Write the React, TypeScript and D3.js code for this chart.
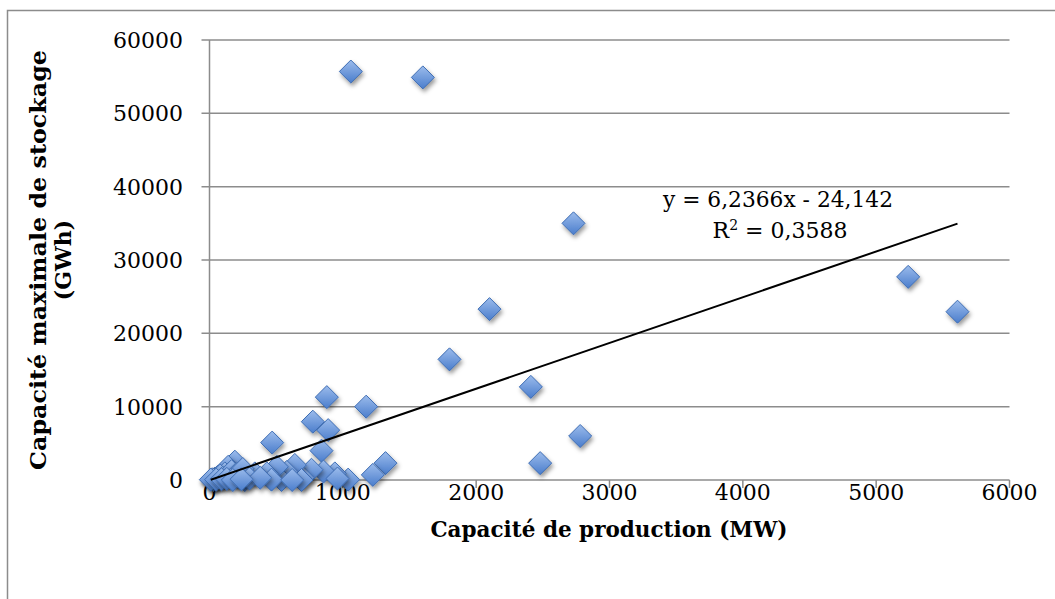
import React from "react";
import * as d3 from "d3";

const width = 1055;
const height = 599;
const margin = { top: 40, right: 45.5, bottom: 119, left: 209.5 };

// production capacity (MW) and max storage (GWh)
const capacityMW = [
  1060, 1600, 2730, 2100, 1800, 2410, 2780, 2480, 5240, 5610,
  880, 1175, 775, 890, 470, 840, 1320, 1225, 1040, 940,
  855, 765, 700, 640, 580, 690, 540, 505, 430, 340,
  465, 265, 190, 140, 115, 40, 20, 60, 80, 100,
  150, 165, 200, 225, 250, 300, 380, 620, 960, 30,
  10, 50, 90, 130, 175, 240
];
const storageGWh = [
  55700, 54900, 35000, 23300, 16450, 12700, 6000, 2300, 27700, 22950,
  11300, 10000, 7950, 6800, 5100, 4000, 2300, 700, 50, 900,
  1150, 1400, 300, 2050, 1100, 0, 0, 1800, 900, 900,
  50, 0, 2500, 1800, 900, 200, 100, 400, 600, 300,
  500, 1200, 800, 300, 1500, 200, 300, 0, 200, 0,
  50, 50, 100, 150, 0, 100
];

const xTicks = [0, 1000, 2000, 3000, 4000, 5000, 6000];
const yTicks = [0, 10000, 20000, 30000, 40000, 50000, 60000];

const slope = 6.2366;
const intercept = -24.142;
const equationText = "y = 6,2366x - 24,142";
const r2Value = "0,3588";

const xTitle = "Capacité de production (MW)";
const yTitle1 = "Capacité maximale de stockage";
const yTitle2 = "(GWh)";

const font = "'DejaVu Serif', serif";

export default function App() {
  const x = d3
    .scaleLinear()
    .domain([0, 6000])
    .range([margin.left, width - margin.right]);
  const y = d3
    .scaleLinear()
    .domain([0, 60000])
    .range([height - margin.bottom, margin.top]);

  const points = capacityMW.map((c, i) => ({ c, s: storageGWh[i] }));
  const [xmin, xmax] = d3.extent(capacityMW) as [number, number];
  const trend = d3.line<number>()
    .x((d) => x(d))
    .y((d) => y(slope * d + intercept))([xmin, xmax]);

  const diamond = d3.symbol().type(d3.symbolDiamond2).size(338)();
  const gray = "#8c8c8c";

  return (
    <svg
      width={width}
      height={height}
      style={{ position: "absolute", left: 0, top: 0, background: "#fff" }}
    >
      <defs>
        <linearGradient id="mk" x1="0" y1="0" x2="0" y2="1">
          <stop offset="0%" stopColor="#9cbcec" />
          <stop offset="100%" stopColor="#4a7dcc" />
        </linearGradient>
        <filter id="sh" x="-50%" y="-50%" width="200%" height="200%">
          <feDropShadow dx="1.5" dy="3" stdDeviation="2" floodColor="#000" floodOpacity="0.4" />
        </filter>
      </defs>

      <rect x={7.5} y={10.5} width={1200} height={800} fill="none" stroke={gray} strokeWidth={1.5} />

      {yTicks.map((t) => (
        <g key={"y" + t}>
          <line x1={x(0) - 8} x2={x(6000)} y1={y(t)} y2={y(t)} stroke={gray} strokeWidth={1.5} />
          <text x={183} y={y(t) + 8} textAnchor="end" fontFamily={font} fontSize={22} fill="#000">
            {t}
          </text>
        </g>
      ))}
      <line x1={x(0)} x2={x(0)} y1={y(60000)} y2={y(0)} stroke={gray} strokeWidth={1.5} />
      {xTicks.map((t) => (
        <g key={"x" + t}>
          <line x1={x(t)} x2={x(t)} y1={y(0)} y2={y(0) + 8} stroke={gray} strokeWidth={1.5} />
          <text x={x(t)} y={y(0) + 20 + 0} dy="0" textAnchor="middle" fontFamily={font} fontSize={22} fill="#000">
            {t}
          </text>
        </g>
      ))}

      {points.map((p, i) => (
        <path
          key={i}
          d={diamond || ""}
          transform={`translate(${x(p.c)},${y(p.s)})`}
          fill="url(#mk)"
          stroke="#3e6db3"
          strokeWidth={1}
          filter="url(#sh)"
        />
      ))}

      <path d={trend || ""} fill="none" stroke="#000" strokeWidth={2} />

      <text x={778} y={207} textAnchor="middle" fontFamily={font} fontSize={22} textLength={230} lengthAdjust="spacingAndGlyphs">
        {equationText}
      </text>
      <text x={780} y={238} textAnchor="middle" fontFamily={font} fontSize={22}>
        R<tspan dy={-8} fontSize={14}>2</tspan>
        <tspan dy={8}> = {r2Value}</tspan>
      </text>

      <text
        x={609}
        y={537}
        textAnchor="middle"
        fontFamily={font}
        fontWeight="bold"
        fontSize={22}
        textLength={357}
        lengthAdjust="spacingAndGlyphs"
      >
        {xTitle}
      </text>
      <text
        transform={`translate(46,260) rotate(-90)`}
        textAnchor="middle"
        fontFamily={font}
        fontWeight="bold"
        fontSize={22}
        textLength={420}
        lengthAdjust="spacingAndGlyphs"
      >
        {yTitle1}
      </text>
      <text
        transform={`translate(71,260) rotate(-90)`}
        textAnchor="middle"
        fontFamily={font}
        fontWeight="bold"
        fontSize={22}
      >
        {yTitle2}
      </text>
    </svg>
  );
}
